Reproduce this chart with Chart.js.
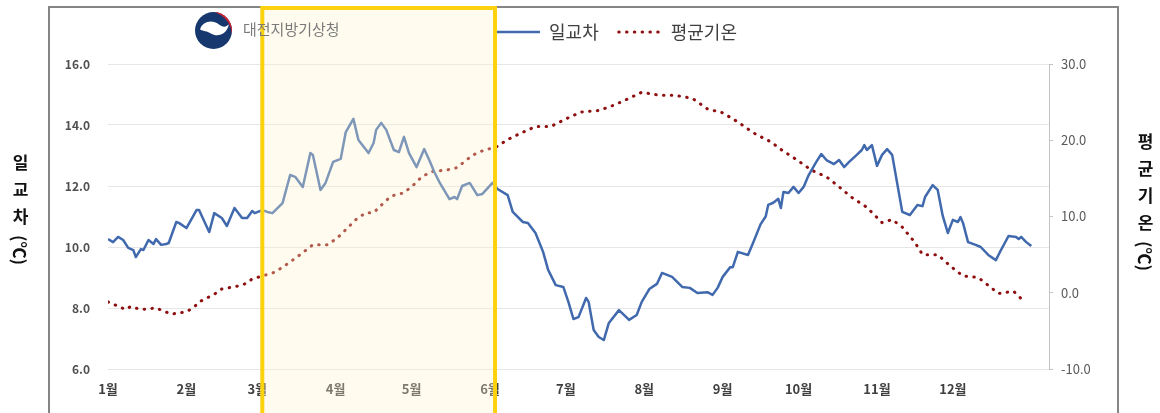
<!DOCTYPE html>
<html>
<head>
<meta charset="utf-8">
<script src="https://cdn.jsdelivr.net/npm/chart.js@4.4.1/dist/chart.umd.min.js"></script>
<style>
    html, body { margin: 0; padding: 0; background: #fff; overflow: hidden; }
    #wrap { position: relative; width: 1160px; height: 413px; }
    #frame { position: absolute; left: 48px; top: 6px; width: 1071px; height: 430px; border: 2px solid #858585; box-sizing: border-box; }
    #c { position: absolute; left: 0; top: 0; }
    .logo { position: absolute; left: 195px; top: 12px; width: 37px; height: 37px; }
    .agency { position: absolute; left: 243px; top: 18px; font: 15px 'Noto Sans CJK KR', sans-serif; color: #7a7a7a; }
    .ytitle { position: absolute; writing-mode: vertical-rl; text-orientation: mixed; font: bold 17px 'Noto Sans CJK KR', sans-serif; color: #111; }
    .ytitle .ko { letter-spacing: 10px; }
    .ytitle .unit { text-orientation: sideways; }
</style>
</head>
<body>
<div id="wrap">
    <div id="frame"></div>
    <canvas id="c" width="1160" height="413"></canvas>
    <svg class="logo" viewBox="0 0 36 36">
        <circle cx="18" cy="18" r="18" fill="#17386f"/>
        <path d="M19,0.1 A18,18 0 0 1 35.8,21 C35,11 29,4 19,0.1 Z" fill="#d2202f"/>
        <path d="M5,17 C7,9 17,7 23,12 C27,15 30,15 33,12 C31,22 22,25 15.5,21 C11.5,18 8.5,19 5,17 Z" fill="#fff"/>
    </svg>
    <div class="agency">대전지방기상청</div>
    <div class="ytitle" style="left:8px; top:154px;"><span class="ko">일교차</span><span class="unit">(℃)</span></div>
    <div class="ytitle" style="left:1133px; top:133px;"><span class="ko">평균기온</span><span class="unit">(℃)</span></div>
</div>
<script>
    // x = day of year (0 = 1월 1일)
    const monthStarts = [0, 31, 59, 90, 120, 151, 181, 212, 243, 273, 304, 334];
    const monthLabels = ['1월', '2월', '3월', '4월', '5월', '6월', '7월', '8월', '9월', '10월', '11월', '12월'];
    const leftTicks = [6, 8, 10, 12, 14, 16];
    const rightTicks = [-10, 0, 10, 20, 30];
    const springDays = [61, 153];

    // 일교차 (left axis)
    const rangeDays = [0, 2, 4, 6, 8, 10, 11, 13, 14, 16, 18, 19, 21, 23, 24, 27, 28, 31, 35, 36,
        40, 42, 45, 47, 50, 53, 55, 57, 58, 61, 63, 65, 69, 72, 74, 77, 80, 81, 84, 86,
        89, 92, 94, 97, 99, 103, 105, 106, 108, 110, 113, 115, 117, 119, 122, 125, 127, 129, 131, 135,
        137, 138, 140, 143, 146, 148, 152, 154, 158, 160, 164, 166, 169, 172, 174, 177, 180, 182, 184, 186,
        189, 190, 192, 194, 196, 198, 202, 206, 209, 211, 214, 217, 219, 223, 227, 230, 233, 237, 239, 241,
        243, 246, 247, 249, 253, 255, 258, 260, 261, 263, 265, 266, 267, 269, 271, 273, 275, 277, 280, 282,
        284, 287, 289, 291, 293, 296, 298, 299, 300, 302, 304, 306, 308, 310, 314, 317, 320, 322, 323, 326,
        328, 330, 332, 334, 336, 337, 338, 340, 343, 345, 348, 351, 353, 356, 359, 360, 361, 363, 365];
    const rangeValues = [10.26, 10.16, 10.33, 10.23, 9.97, 9.9, 9.67, 9.93, 9.9, 10.23, 10.1, 10.26, 10.07, 10.1, 10.13, 10.82, 10.79, 10.62, 11.21, 11.21,
        10.49, 11.11, 10.95, 10.69, 11.28, 10.95, 10.95, 11.18, 11.11, 11.21, 11.15, 11.11, 11.44, 12.36, 12.3, 11.97, 13.08, 13.02, 11.87, 12.1,
        12.79, 12.89, 13.77, 14.2, 13.51, 13.08, 13.41, 13.84, 14.07, 13.84, 13.18, 13.11, 13.61, 13.08, 12.62, 13.21, 12.85, 12.46, 12.13, 11.57,
        11.64, 11.57, 12.0, 12.1, 11.7, 11.74, 12.1, 11.9, 11.7, 11.15, 10.82, 10.79, 10.46, 9.84, 9.25, 8.75, 8.69, 8.2, 7.64, 7.7,
        8.33, 8.2, 7.28, 7.05, 6.95, 7.51, 7.93, 7.61, 7.77, 8.2, 8.62, 8.79, 9.15, 9.02, 8.69, 8.66, 8.49, 8.52, 8.43, 8.66,
        9.02, 9.34, 9.34, 9.84, 9.74, 10.13, 10.75, 11.0, 11.38, 11.45, 11.58, 11.28, 11.8, 11.77, 11.97, 11.77, 11.97, 12.36, 12.79, 13.05,
        12.85, 12.72, 12.85, 12.62, 12.79, 13.02, 13.18, 13.34, 13.18, 13.34, 12.66, 13.02, 13.21, 13.02, 11.15, 11.05, 11.38, 11.34, 11.64, 12.03,
        11.87, 11.02, 10.46, 10.89, 10.82, 10.98, 10.79, 10.16, 10.07, 10.0, 9.74, 9.57, 9.9, 10.36, 10.33, 10.26, 10.33, 10.16, 10.03];

    // 평균기온 (right axis)
    const tempDays = [0, 7, 9, 13, 19, 25, 31, 34, 36, 42, 45, 51, 54, 57, 61, 66, 71, 76, 81, 87,
        91, 95, 98, 102, 105, 109, 112, 117, 121, 124, 128, 134, 138, 142, 146, 154, 158, 163, 169, 175,
        181, 187, 194, 200, 206, 211, 218, 224, 231, 237, 243, 249, 255, 259, 262, 266, 272, 278, 284, 289,
        294, 300, 306, 310, 314, 319, 322, 328, 333, 338, 344, 349, 352, 358, 362];
    const tempValues = [-1.2, -2.2, -1.8, -2.2, -2.0, -2.8, -2.5, -1.9, -1.2, -0.2, 0.5, 0.85, 1.15, 1.8, 2.2, 2.7, 3.8, 5.0, 6.3, 6.3,
        7.3, 8.6, 9.6, 10.5, 10.5, 11.8, 12.7, 13.1, 14.2, 15.2, 15.9, 16.1, 16.4, 17.5, 18.4, 19.2, 20.1, 20.9, 21.8, 21.8,
        22.8, 23.7, 23.9, 24.6, 25.5, 26.3, 25.9, 25.9, 25.5, 24.1, 23.6, 22.4, 21.0, 20.3, 19.8, 18.8, 17.5, 16.1, 15.2, 13.9,
        12.5, 11.2, 9.2, 9.6, 8.6, 6.6, 5.0, 5.0, 3.5, 2.2, 2.0, 0.7, -0.1, 0.2, -1.1];

    Chart.defaults.font.family = "'Noto Sans CJK KR', 'Noto Sans', sans-serif";
    Chart.defaults.color = '#595959';

    // legend sits a bit higher and right of where the layout puts it
    const legendMove = {
        id: 'legendMove',
        afterLayout(chart) {
            let lg = chart.legend;
            let h = lg.bottom - lg.top;
            lg.top = 3;
            lg.bottom = 3 + h;
            lg.left += 37;
            lg.right += 37;
        }
    };

    const springBox = {
        id: 'springBox',
        afterDraw(chart) {
            let ctx = chart.ctx;
            let x0 = chart.scales.x.getPixelForValue(springDays[0]);
            let x1 = chart.scales.x.getPixelForValue(springDays[1]);
            ctx.save();
            ctx.fillStyle = 'rgba(255, 246, 205, 0.32)';
            ctx.fillRect(x0, 8, x1 - x0, chart.height);
            ctx.strokeStyle = '#fcd20f';
            ctx.lineWidth = 4;
            ctx.strokeRect(x0, 8, x1 - x0, chart.height + 20);
            ctx.restore();
        }
    };

    new Chart(document.getElementById('c'), {
        type: 'line',
        data: {
            datasets: [{
                label: '일교차',
                data: rangeDays.map((d, i) => ({ x: d, y: rangeValues[i] })),
                borderColor: '#4169ad',
                borderWidth: 2.5,
                borderJoinStyle: 'round',
                pointRadius: 0,
                yAxisID: 'y'
            }, {
                label: '평균기온',
                data: tempDays.map((d, i) => ({ x: d, y: tempValues[i] })),
                borderColor: '#8e0f0f',
                borderWidth: 3,
                borderDash: [0.5, 7.3],
                borderCapStyle: 'round',
                pointRadius: 0,
                yAxisID: 'y1'
            }]
        },
        options: {
            responsive: false,
            animation: false,
            layout: { padding: { top: 16, left: 0, right: 0, bottom: 0 } },
            plugins: {
                legend: {
                    position: 'top',
                    labels: {
                        usePointStyle: true,
                        pointStyle: 'line',
                        pointStyleWidth: 43,
                        padding: 20,
                        color: '#404040',
                        font: { size: 18 },
                        generateLabels: chart => {
                            let items = Chart.defaults.plugins.legend.labels.generateLabels(chart);
                            items.forEach((it, i) => {
                                let ds = chart.data.datasets[i];
                                it.strokeStyle = ds.borderColor;
                                it.lineWidth = ds.borderWidth;
                                it.lineDash = ds.borderDash || [];
                                it.lineCap = ds.borderCapStyle || 'butt';
                            });
                            return items;
                        }
                    }
                },
                tooltip: { enabled: false }
            },
            scales: {
                x: {
                    type: 'linear',
                    min: 0,
                    max: 372,
                    afterFit: s => { s.height = 44; },
                    afterBuildTicks: s => { s.ticks = monthStarts.map(v => ({ value: v })); },
                    grid: { display: false, drawTicks: false },
                    border: { display: false },
                    ticks: {
                        autoSkip: false,
                        maxRotation: 0,
                        padding: 12,
                        color: '#404040',
                        font: { size: 13, weight: 'bold' },
                        callback: (v, i) => monthLabels[i]
                    }
                },
                y: {
                    position: 'left',
                    min: 6,
                    max: 16,
                    afterFit: s => { s.width = 108; },
                    afterBuildTicks: s => { s.ticks = leftTicks.map(v => ({ value: v })); },
                    grid: { color: '#e6e6e6', drawTicks: false },
                    border: { display: false },
                    ticks: {
                        padding: 18,
                        color: '#505050',
                        font: { size: 12, weight: 'bold' },
                        callback: v => v.toFixed(1)
                    }
                },
                y1: {
                    position: 'right',
                    min: -10,
                    max: 30,
                    afterFit: s => { s.width = 111; },
                    afterBuildTicks: s => { s.ticks = rightTicks.map(v => ({ value: v })); },
                    grid: { drawOnChartArea: false, drawTicks: true, tickLength: 4, color: '#c4c4c4' },
                    border: { display: true, color: '#c4c4c4' },
                    ticks: {
                        padding: 8,
                        color: '#595959',
                        font: { size: 13 },
                        callback: v => v.toFixed(1)
                    }
                }
            }
        },
        plugins: [legendMove, springBox]
    });
</script>
</body>
</html>
